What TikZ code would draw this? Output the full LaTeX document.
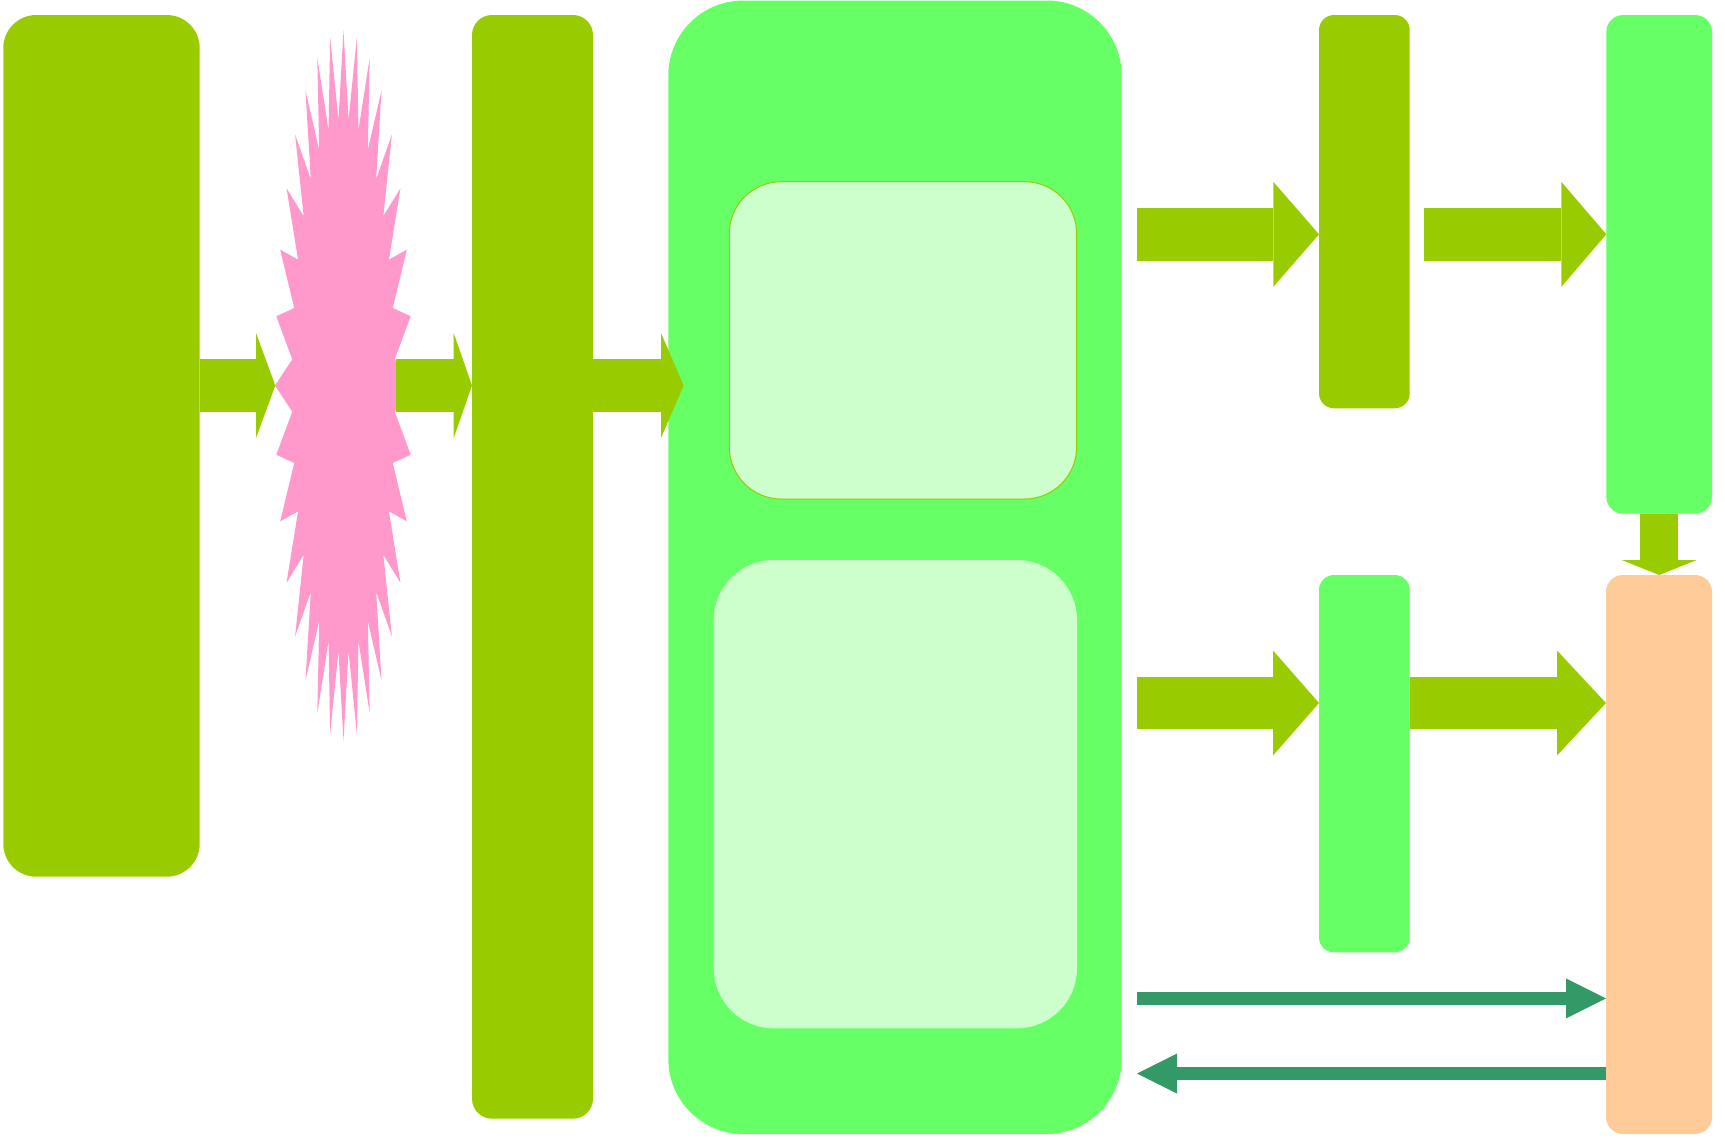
\documentclass[tikz,border=0pt]{standalone}
\usetikzlibrary{arrows.meta}
\definecolor{olivegrn}{HTML}{99CC00}
\definecolor{brightgrn}{HTML}{66FF66}
\definecolor{palegrn}{HTML}{CCFFCC}
\definecolor{peachc}{HTML}{FFCC99}
\definecolor{pinkc}{HTML}{FF99CC}
\definecolor{darkgrn}{HTML}{339966}
\begin{document}
\begin{tikzpicture}[x=1pt,y=-1pt,
  box/.style={rectangle, inner sep=0pt, outer sep=0pt},
  blockarrow/.style={draw=olivegrn, line width=52.7pt,
    -{Triangle[length=#1,width=105pt,line width=0pt]}},
  thinarrow/.style={draw=darkgrn, line width=13pt,
    -{Triangle[length=40pt,width=40pt,line width=0pt]}},
  downarrow/.style={draw=olivegrn, line width=38pt,
    -{Triangle[length=15pt,width=75pt,line width=0pt]}}]
\useasboundingbox (0,0) rectangle (1725,1138);

% left column boxes
\node[box, fill=olivegrn, rounded corners=33pt, minimum width=196.4pt, minimum height=861.7pt] (A) at (101.5,445.85) {};
\node[box, fill=olivegrn, rounded corners=20pt, minimum width=121pt, minimum height=1103.7pt] (B) at (532.5,566.85) {};

% starburst
\coordinate (S) at (343.5,385.5);
\coordinate (Sw) at (275.3,385.5);
\coordinate (Se) at (396.4,385.5);
\fill[pinkc] plot[samples at={0,...,63}, variable=\k]
  ({343.5+68.5*(1-0.248*mod(\k,2))*sin(\k*5.625)},
   {385.5-355*(1-0.248*mod(\k,2))*cos(\k*5.625)}) -- cycle;

% large container
\node[box, fill=brightgrn, rounded corners=75pt, minimum width=453.4pt, minimum height=1133.5pt] (C) at (895,567.25) {};
\node[box, fill=palegrn, draw=olivegrn, line width=1pt, rounded corners=52pt, minimum width=347.4pt, minimum height=317.3pt] (C1) at (903,340.35) {};
\node[box, fill=palegrn, rounded corners=60pt, minimum width=363.3pt, minimum height=468.3pt] (C2) at (895.35,794.15) {};

% right boxes
\node[box, fill=olivegrn, rounded corners=15pt, minimum width=90.7pt, minimum height=393.3pt] (D) at (1364.35,211.65) {};
\node[box, fill=brightgrn, rounded corners=17pt, minimum width=105.7pt, minimum height=498.7pt] (E) at (1659.15,264.35) {};
\node[box, fill=brightgrn, rounded corners=15pt, minimum width=90.7pt, minimum height=377.4pt] (G) at (1364.35,763.7) {};
\node[box, fill=peachc, rounded corners=17pt, minimum width=106pt, minimum height=559pt] (F) at (1659,854.5) {};

% free ends of connectors
\coordinate (a3tip) at (683.7,385.5);
\coordinate (a4s) at (1137.3,234.3);
\coordinate (a5s) at (1424.3,234.3);
\coordinate (a6s) at (1137,703);
\coordinate (a8s) at (1137,998.4);
\coordinate (a9e) at (1137,1073.6);

% block arrows
\draw[blockarrow=19.3pt] (A.east |- S) -- (Sw);
\draw[blockarrow=18.3pt] (Se) -- (B.west |- S);
\draw[blockarrow=22.7pt] (B.east |- S) -- (a3tip);
\draw[blockarrow=45.7pt] (a4s) -- (D.west |- a4s);
\draw[blockarrow=45pt] (a5s) -- (E.west |- a5s);
\draw[blockarrow=46pt] (a6s) -- (G.west |- a6s);
\draw[blockarrow=49pt] (G.east |- a6s) -- (F.west |- a6s);
\draw[downarrow] (E.south) -- (E.south |- F.north);

% thin arrows
\draw[thinarrow] (a8s) -- (F.west |- a8s);
\draw[thinarrow] (F.west |- a9e) -- (a9e);
\end{tikzpicture}
\end{document}
